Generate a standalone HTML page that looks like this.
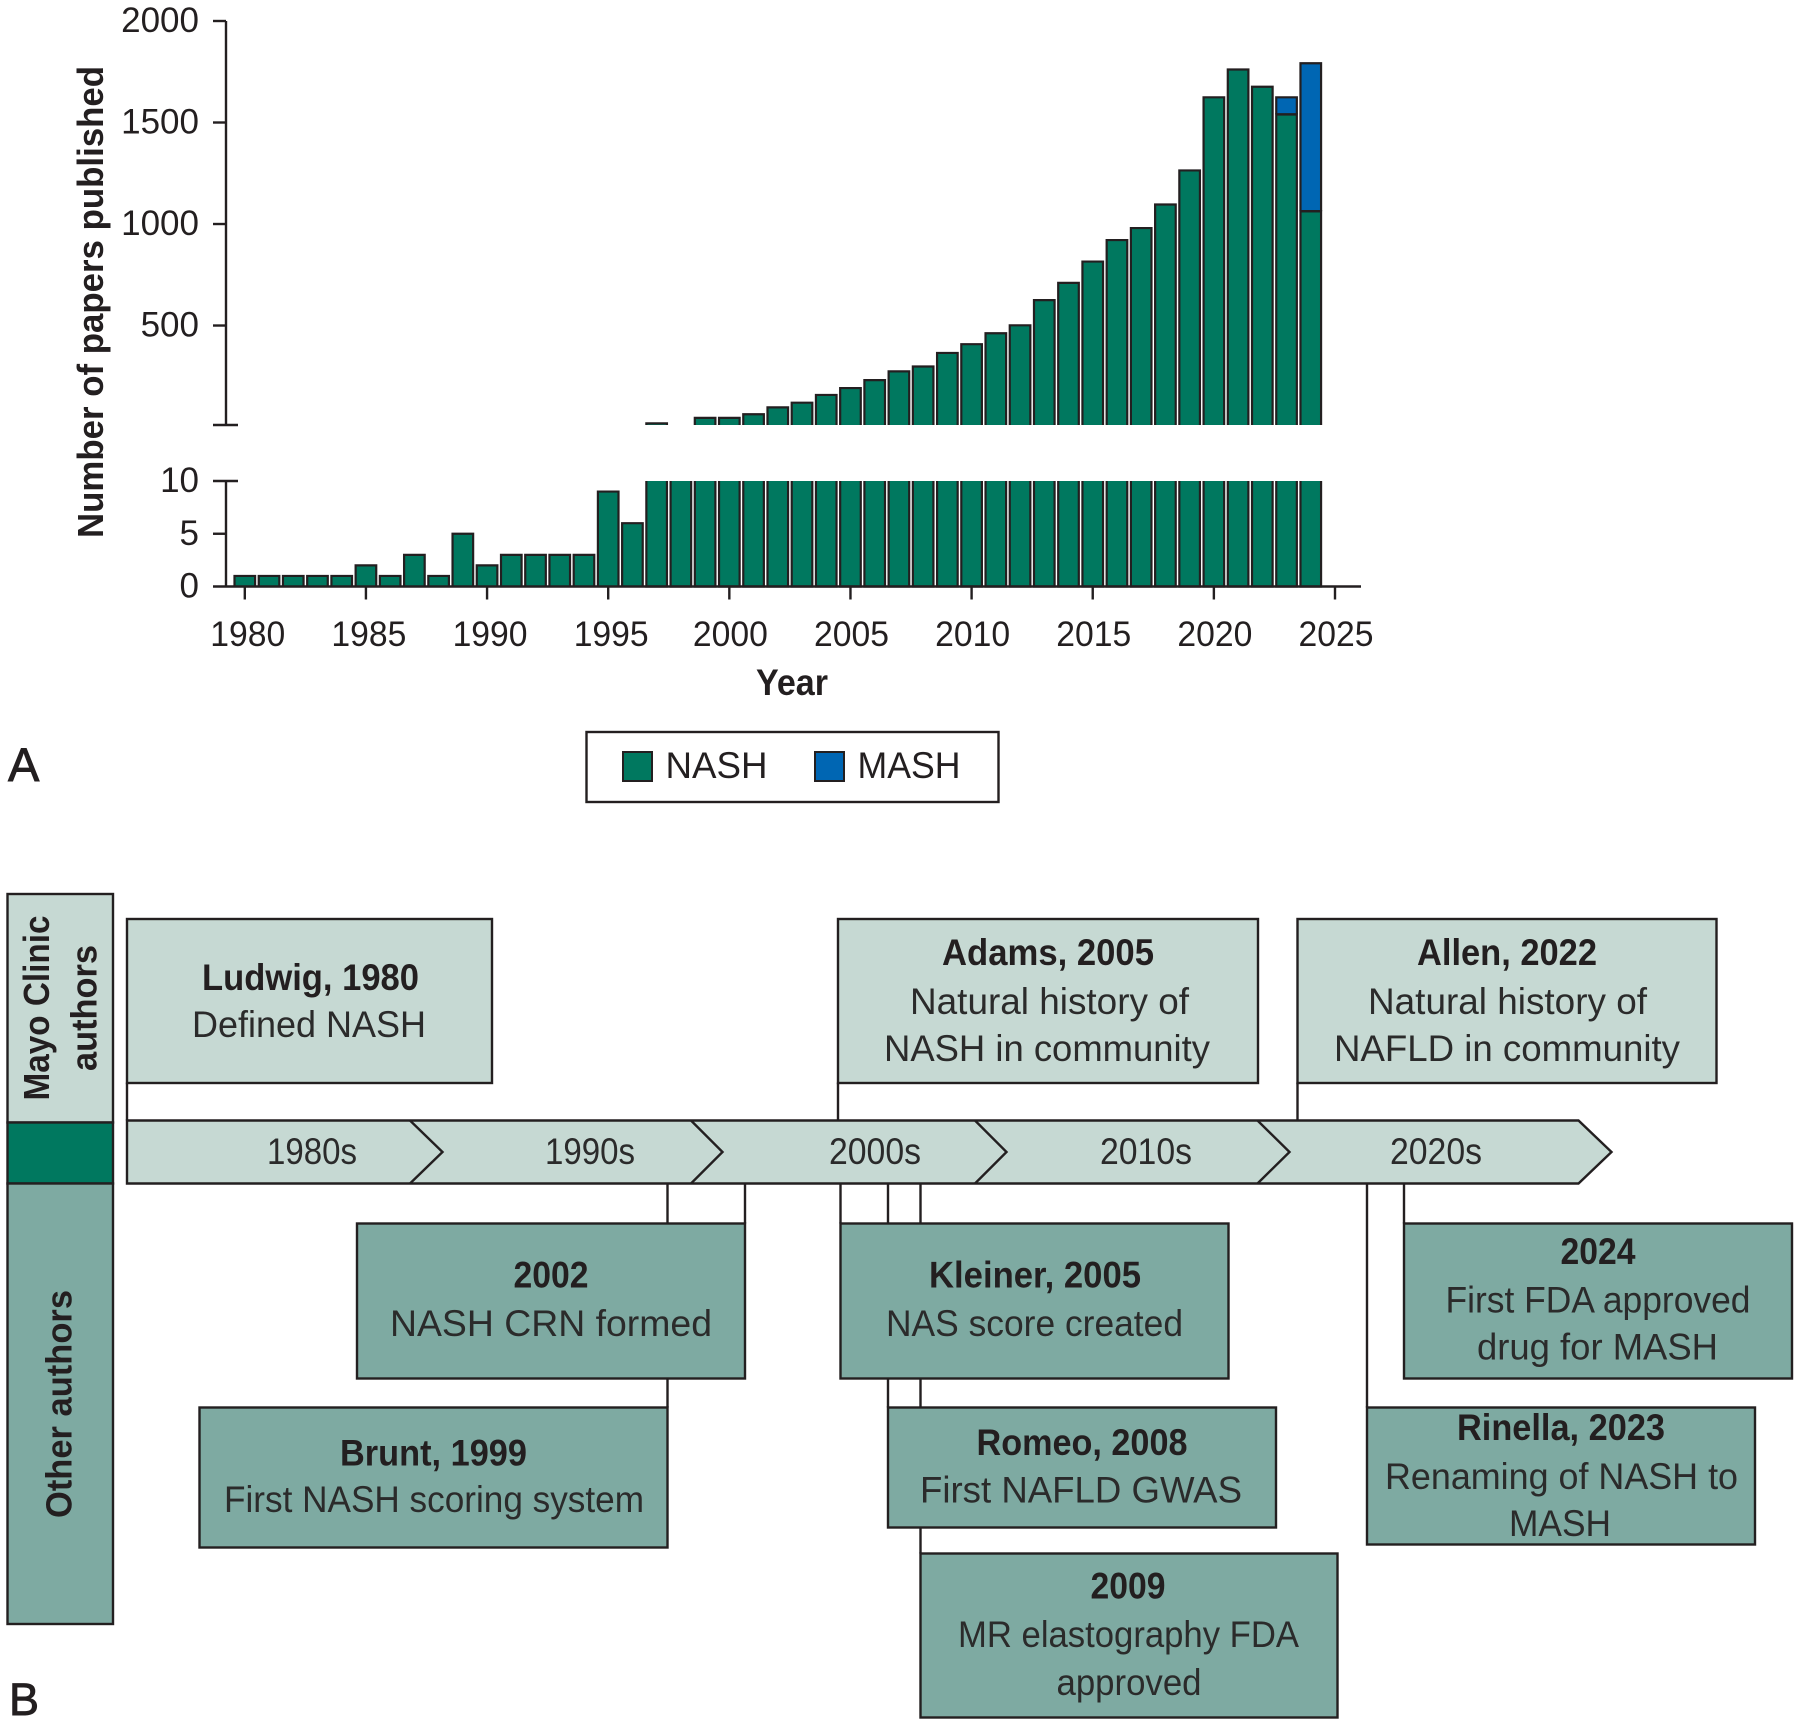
<!DOCTYPE html>
<html lang="en">
<head>
<meta charset="utf-8">
<title>NASH and MASH publications and timeline</title>
<style>
html,body{margin:0;padding:0;background:#fff;}
svg{display:block;}
text{font-family:"Liberation Sans",sans-serif;fill:#231f20;}
.t{font-size:37px;font-weight:700;text-anchor:middle;transform:translateY(-1px);}
.s{font-size:37px;font-weight:400;text-anchor:middle;fill:#2b2b2b;transform:translateY(-1px);}
.box{stroke:#231f20;stroke-width:2.4;transform:translate(-.5px,-.5px);}
.lt{fill:#c6d9d3;}
.md{fill:#7eaaa2;}
.ln{stroke:#231f20;stroke-width:2.4;fill:none;transform:translate(-.5px,-.5px);}
</style>
</head>
<body>
<svg id="fig" xmlns="http://www.w3.org/2000/svg" width="1800" height="1726" viewBox="0 0 1800 1726">
  <g id="chart"></g>

  <text transform="translate(103 302) rotate(-90)" font-size="36" font-weight="700" text-anchor="middle" textLength="472" lengthAdjust="spacingAndGlyphs">Number of papers published</text>
  <text x="792" y="695" font-size="37" font-weight="700" text-anchor="middle" textLength="72" lengthAdjust="spacingAndGlyphs">Year</text>
  <text x="8" y="781" font-size="47" stroke="#231f20" stroke-width="0.9">A</text>

  <g>
    <rect x="586.5" y="732" width="412" height="70" fill="#fff" stroke="#231f20" stroke-width="2.4"/>
    <g>
      <rect x="623" y="752" width="29" height="29" fill="#00785f" stroke="#231f20" stroke-width="2"/>
      <text x="665.5" y="778" font-size="37" textLength="102" lengthAdjust="spacingAndGlyphs">NASH</text>
    </g>
    <g>
      <rect x="815" y="752" width="29" height="29" fill="#0066b3" stroke="#231f20" stroke-width="2"/>
      <text x="857.5" y="778" font-size="37" textLength="103" lengthAdjust="spacingAndGlyphs">MASH</text>
    </g>
  </g>

  <g>
    <rect class="box lt" x="8" y="894.5" width="105.5" height="228.5"/>
    <rect class="box" fill="#00785f" x="8" y="1123" width="105.5" height="61"/>
    <rect class="box md" x="8" y="1184" width="105.5" height="440.5"/>
    <text transform="translate(49 1008) rotate(-90)" font-size="36" font-weight="700" text-anchor="middle" textLength="185" lengthAdjust="spacingAndGlyphs">Mayo Clinic</text>
    <text transform="translate(96.5 1008) rotate(-90)" font-size="36" font-weight="700" text-anchor="middle" textLength="126" lengthAdjust="spacingAndGlyphs">authors</text>
    <text transform="translate(71.5 1404) rotate(-90)" font-size="36" font-weight="700" text-anchor="middle" textLength="228" lengthAdjust="spacingAndGlyphs">Other authors</text>
  </g>

  <g>
    <line class="ln" x1="127.5" y1="1083" x2="127.5" y2="1121"/>
    <line class="ln" x1="838.5" y1="1083" x2="838.5" y2="1121"/>
    <line class="ln" x1="1298" y1="1083" x2="1298" y2="1121"/>
    <line class="ln" x1="668" y1="1184" x2="668" y2="1408"/>
    <line class="ln" x1="745.5" y1="1184" x2="745.5" y2="1224"/>
    <line class="ln" x1="841" y1="1184" x2="841" y2="1224"/>
    <line class="ln" x1="888.5" y1="1184" x2="888.5" y2="1408"/>
    <line class="ln" x1="921" y1="1184" x2="921" y2="1554"/>
    <line class="ln" x1="1367.5" y1="1184" x2="1367.5" y2="1408"/>
    <line class="ln" x1="1404.5" y1="1184" x2="1404.5" y2="1224"/>
  </g>

  <g>
    <polygon class="box lt" points="127.5,1121 1579,1121 1612,1152.5 1579,1184 127.5,1184"/>
    <polyline class="ln" points="410.5,1121 443,1152.5 410.5,1184"/>
    <polyline class="ln" points="691.5,1121 723,1152.5 691.5,1184"/>
    <polyline class="ln" points="975.5,1121 1007,1152.5 975.5,1184"/>
    <polyline class="ln" points="1258,1121 1290,1152.5 1258,1184"/>
    <text class="s" x="312" y="1165" textLength="90" lengthAdjust="spacingAndGlyphs">1980s</text>
    <text class="s" x="590" y="1165" textLength="90" lengthAdjust="spacingAndGlyphs">1990s</text>
    <text class="s" x="875" y="1165" textLength="92" lengthAdjust="spacingAndGlyphs">2000s</text>
    <text class="s" x="1146" y="1165" textLength="92" lengthAdjust="spacingAndGlyphs">2010s</text>
    <text class="s" x="1436" y="1165" textLength="92" lengthAdjust="spacingAndGlyphs">2020s</text>
  </g>

  <g>
    <rect class="box lt" x="127.5" y="919.5" width="365" height="164"/>
    <text class="t" x="310.5" y="991" textLength="217" lengthAdjust="spacingAndGlyphs">Ludwig, 1980</text>
    <text class="s" x="309" y="1038" textLength="234" lengthAdjust="spacingAndGlyphs">Defined NASH</text>
  </g>
  <g>
    <rect class="box lt" x="838.5" y="919.5" width="420" height="164"/>
    <text class="t" x="1048" y="966" textLength="212" lengthAdjust="spacingAndGlyphs">Adams, 2005</text>
    <text class="s" x="1049.5" y="1015" textLength="279" lengthAdjust="spacingAndGlyphs">Natural history of</text>
    <text class="s" x="1047" y="1062" textLength="326" lengthAdjust="spacingAndGlyphs">NASH in community</text>
  </g>
  <g>
    <rect class="box lt" x="1298" y="919.5" width="419" height="164"/>
    <text class="t" x="1507" y="966" textLength="180" lengthAdjust="spacingAndGlyphs">Allen, 2022</text>
    <text class="s" x="1507.5" y="1015" textLength="279" lengthAdjust="spacingAndGlyphs">Natural history of</text>
    <text class="s" x="1507" y="1062" textLength="346" lengthAdjust="spacingAndGlyphs">NAFLD in community</text>
  </g>
  <g>
    <rect class="box md" x="357.5" y="1224" width="388" height="155"/>
    <text class="t" x="551" y="1288.5" textLength="75" lengthAdjust="spacingAndGlyphs">2002</text>
    <text class="s" x="551" y="1337" textLength="322" lengthAdjust="spacingAndGlyphs">NASH CRN formed</text>
  </g>
  <g>
    <rect class="box md" x="200" y="1408" width="468" height="140"/>
    <text class="t" x="433.5" y="1466.5" textLength="187" lengthAdjust="spacingAndGlyphs">Brunt, 1999</text>
    <text class="s" x="434" y="1513" textLength="420" lengthAdjust="spacingAndGlyphs">First NASH scoring system</text>
  </g>
  <g>
    <rect class="box md" x="841" y="1224" width="388" height="155"/>
    <text class="t" x="1035" y="1288.5" textLength="212" lengthAdjust="spacingAndGlyphs">Kleiner, 2005</text>
    <text class="s" x="1034.5" y="1337" textLength="297" lengthAdjust="spacingAndGlyphs">NAS score created</text>
  </g>
  <g>
    <rect class="box md" x="888.5" y="1408" width="388" height="120"/>
    <text class="t" x="1082" y="1456" textLength="211" lengthAdjust="spacingAndGlyphs">Romeo, 2008</text>
    <text class="s" x="1081" y="1503.5" textLength="322" lengthAdjust="spacingAndGlyphs">First NAFLD GWAS</text>
  </g>
  <g>
    <rect class="box md" x="921" y="1554" width="417" height="164"/>
    <text class="t" x="1128" y="1599.5" textLength="75" lengthAdjust="spacingAndGlyphs">2009</text>
    <text class="s" x="1128.5" y="1648" textLength="341" lengthAdjust="spacingAndGlyphs">MR elastography FDA</text>
    <text class="s" x="1129" y="1696" textLength="145" lengthAdjust="spacingAndGlyphs">approved</text>
  </g>
  <g>
    <rect class="box md" x="1404.5" y="1224" width="388" height="155"/>
    <text class="t" x="1598" y="1265" textLength="75" lengthAdjust="spacingAndGlyphs">2024</text>
    <text class="s" x="1598" y="1313.5" textLength="305" lengthAdjust="spacingAndGlyphs">First FDA approved</text>
    <text class="s" x="1597.5" y="1360.5" textLength="241" lengthAdjust="spacingAndGlyphs">drug for MASH</text>
  </g>
  <g>
    <rect class="box md" x="1367.5" y="1408" width="388" height="137"/>
    <text class="t" x="1561" y="1441" textLength="208" lengthAdjust="spacingAndGlyphs">Rinella, 2023</text>
    <text class="s" x="1561.5" y="1490" textLength="353" lengthAdjust="spacingAndGlyphs">Renaming of NASH to</text>
    <text class="s" x="1560" y="1537" textLength="102" lengthAdjust="spacingAndGlyphs">MASH</text>
  </g>

  <text x="9" y="1715" font-size="45" stroke="#231f20" stroke-width="0.9">B</text>
</svg>

<script>
const years = [1980,1981,1982,1983,1984,1985,1986,1987,1988,1989,1990,1991,1992,1993,1994,1995,1996,1997,1998,1999,2000,2001,2002,2003,2004,2005,2006,2007,2008,2009,2010,2011,2012,2013,2014,2015,2016,2017,2018,2019,2020,2021,2022,2023,2024];
const nashValues = [1,1,1,1,1,2,1,3,1,5,2,3,3,3,3,9,6,18,10,45,45,63,97,120,158,192,231,274,298,365,408,462,501,625,710,815,921,980,1096,1264,1624,1761,1676,1540,1063];
const mashValues = [0,0,0,0,0,0,0,0,0,0,0,0,0,0,0,0,0,0,0,0,0,0,0,0,0,0,0,0,0,0,0,0,0,0,0,0,0,0,0,0,0,0,0,84,729];
const upperTicks = [2000,1500,1000,500];
const lowerTicks = [10,5,0];
const xTicks = [1980,1985,1990,1995,2000,2005,2010,2015,2020,2025];

const NS = 'http://www.w3.org/2000/svg';
const chart = document.getElementById('chart');
const BREAK_VALUE = 10;
const BAR_WIDTH = 20.6;

function xScale(year) { return 244.8 + (year - 1980) * (1335 - 244.8) / 45; }
function yUpper(v) { return 425 - (v - BREAK_VALUE) * (425 - 21) / (2000 - BREAK_VALUE); }
function yLower(v) { return 586.5 - v * (586.5 - 481) / BREAK_VALUE; }

function makeEl(tag) {
  const el = document.createElementNS(NS, tag);
  chart.appendChild(el);
  return el;
}

function drawLine(el, x1, y1, x2, y2) {
  el.setAttribute('x1', x1);
  el.setAttribute('y1', y1);
  el.setAttribute('x2', x2);
  el.setAttribute('y2', y2);
  el.setAttribute('stroke', '#231f20');
  el.setAttribute('stroke-width', '2.4');
}

function openBar(el, cx, base, top, fill) {
  const l = cx - BAR_WIDTH / 2;
  const r = cx + BAR_WIDTH / 2;
  el.setAttribute('d', 'M' + l + ' ' + base + 'V' + top + 'H' + r + 'V' + base);
  el.setAttribute('fill', fill);
  el.setAttribute('stroke', '#231f20');
  el.setAttribute('stroke-width', '2.2');
}

years.forEach(function (year, i) {
  const cx = xScale(year);
  const nash = nashValues[i];
  const mash = mashValues[i];

  const lowTop = yLower(Math.min(nash, BREAK_VALUE));
  const lowBar = makeEl('path');
  
  
  if (nash >= BREAK_VALUE) {
    lowBar.setAttribute('d', 'M' + (cx - BAR_WIDTH / 2) + ' ' + lowTop + 'V' + yLower(0) + 'H' + (cx + BAR_WIDTH / 2) + 'V' + lowTop);
    lowBar.setAttribute('fill', '#00785f');
    lowBar.setAttribute('stroke', '#231f20');
    lowBar.setAttribute('stroke-width', '2.2');
  } else {
    openBar(lowBar, cx, yLower(0), lowTop, '#00785f');
  }

  if (nash > BREAK_VALUE) {
    const upBar = makeEl('path');
    
    
    openBar(upBar, cx, yUpper(BREAK_VALUE), yUpper(nash), '#00785f');
  }
  if (mash > 0) {
    const mashBar = makeEl('path');
    
    
    openBar(mashBar, cx, yUpper(nash), yUpper(nash + mash), '#0066b3');
    const divider = makeEl('line');
    
    
    drawLine(divider, cx - BAR_WIDTH / 2, yUpper(nash), cx + BAR_WIDTH / 2, yUpper(nash));
  }
});

const upperAxis = makeEl('line');


drawLine(upperAxis, 226, yUpper(2000), 226, yUpper(BREAK_VALUE));

const upperBase = makeEl('line');


drawLine(upperBase, 213, yUpper(BREAK_VALUE), 238, yUpper(BREAK_VALUE));

const lowerAxis = makeEl('line');


drawLine(lowerAxis, 226, yLower(BREAK_VALUE), 226, yLower(0));

const lowerBreak = makeEl('line');


drawLine(lowerBreak, 213, yLower(BREAK_VALUE), 238, yLower(BREAK_VALUE));

const xAxis = makeEl('line');


drawLine(xAxis, 213, yLower(0), 1361, yLower(0));

upperTicks.forEach(function (v) {
  const y = yUpper(v);
  const tick = makeEl('line');
  
  
  drawLine(tick, 213, y, 226, y);
  const label = makeEl('text');
  
  
  label.setAttribute('x', 199);
  label.setAttribute('y', y + 11);
  label.setAttribute('font-size', '35');
  label.setAttribute('text-anchor', 'end');
  label.textContent = v;
});

lowerTicks.forEach(function (v) {
  const y = yLower(v);
  if (v !== BREAK_VALUE && v !== 0) {
    const tick = makeEl('line');
    
    
    drawLine(tick, 213, y, 226, y);
  }
  const label = makeEl('text');
  
  
  label.setAttribute('x', 199);
  label.setAttribute('y', y + 11);
  label.setAttribute('font-size', '35');
  label.setAttribute('text-anchor', 'end');
  label.textContent = v;
});

xTicks.forEach(function (year) {
  const x = xScale(year);
  const tick = makeEl('line');
  
  
  drawLine(tick, x, yLower(0), x, yLower(0) + 13);
  const label = makeEl('text');
  
  
  label.setAttribute('x', x + (year < 2000 ? 3 : 1));
  label.setAttribute('y', 646);
  label.setAttribute('font-size', '35');
  label.setAttribute('text-anchor', 'middle');
  label.setAttribute('textLength', '75');
  label.setAttribute('lengthAdjust', 'spacingAndGlyphs');
  label.textContent = year;
});
</script>
</body>
</html>
